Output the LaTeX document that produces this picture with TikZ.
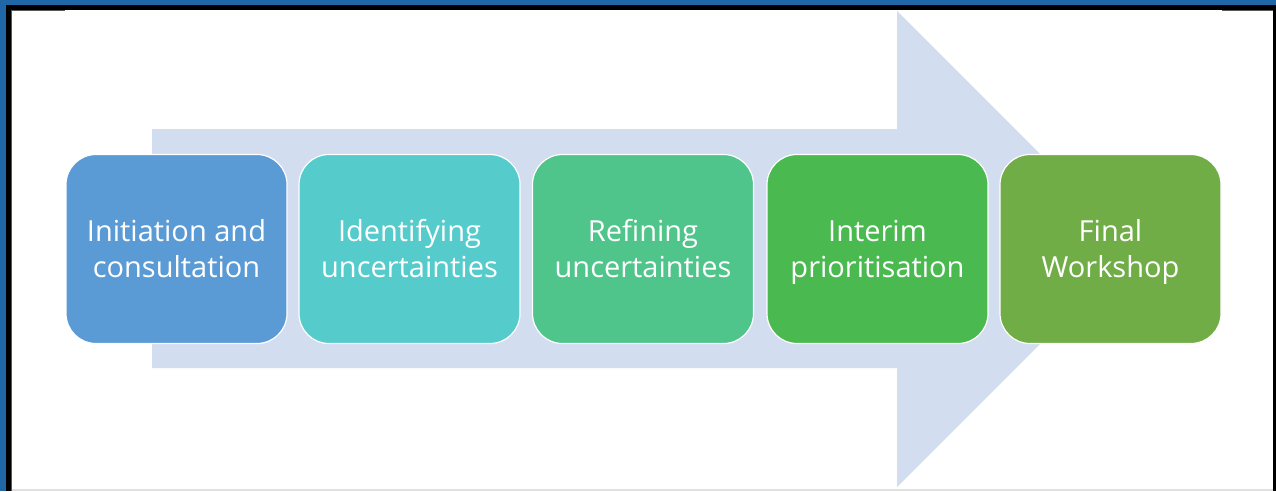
\documentclass[tikz,border=0pt]{standalone}
\usepackage{fontspec}
\setmainfont{Open Sans}
\definecolor{frameblue}{HTML}{2067A8}
\definecolor{arrowfill}{HTML}{D2DDEF}
\definecolor{cA}{HTML}{5B9BD5}
\definecolor{cB}{HTML}{55CBCC}
\definecolor{cC}{HTML}{4FC48B}
\definecolor{cD}{HTML}{4ABA50}
\definecolor{cE}{HTML}{70AD47}
\definecolor{edgegray}{HTML}{5A5A5A}
\definecolor{bottomgray}{HTML}{E0E0E0}
\tikzset{
  stagebox/.style={draw=white, line width=1.2pt, rounded corners=30pt,
    minimum width=221pt, minimum height=189pt, inner sep=0pt},
  stagetext/.style={text=white, align=center, inner sep=0pt,
    font=\fontsize{29}{36}\selectfont},
}
\begin{document}
\begin{tikzpicture}[x=1pt,y=-1pt]
\useasboundingbox (0,0) rectangle (1276,491);
\fill[white] (0,0) rectangle (1276,491);
% frame
\fill[frameblue] (0,0) rectangle (1276,5);
\fill[frameblue] (0,0) rectangle (6,491);
\fill[black] (6,5) rectangle (1276,10);
\fill[black] (6,5) rectangle (11,491);
\fill[black] (1273,10) rectangle (1276,491);
\fill[edgegray] (11,10) rectangle (12,491);
\fill[edgegray] (11,10) rectangle (65,11);
\fill[edgegray] (1222,10) rectangle (1273,11);
\fill[bottomgray] (12,489) rectangle (1273,491);
% big arrow
\fill[arrowfill] (152,129) -- (897,129) -- (897,11) -- (1135,249)
  -- (897,487) -- (897,368) -- (152,368) -- cycle;
% stages
\node[stagebox, fill=cA] (s1) at (176.5,249) {};
\node[stagebox, fill=cB] (s2) at (409.5,249) {};
\node[stagebox, fill=cC] (s3) at (643,249) {};
\node[stagebox, fill=cD] (s4) at (877.5,249) {};
\node[stagebox, fill=cE] (s5) at (1110.5,249) {};
\node[stagetext] (t1) at ([yshift=-2.8pt]s1.center) {\strut Initiation and\\\strut consultation};
\node[stagetext] (t2) at ([yshift=-2.8pt]s2.center) {\strut Identifying\\\strut uncertainties};
\node[stagetext] (t3) at ([yshift=-2.8pt]s3.center) {\strut Refining\\\strut uncertainties};
\node[stagetext] (t4) at ([yshift=-2.8pt]s4.center) {\strut Interim\\\strut prioritisation};
\node[stagetext] (t5) at ([yshift=-2.8pt]s5.center) {\strut Final\\\strut Workshop};
\end{tikzpicture}
\end{document}
